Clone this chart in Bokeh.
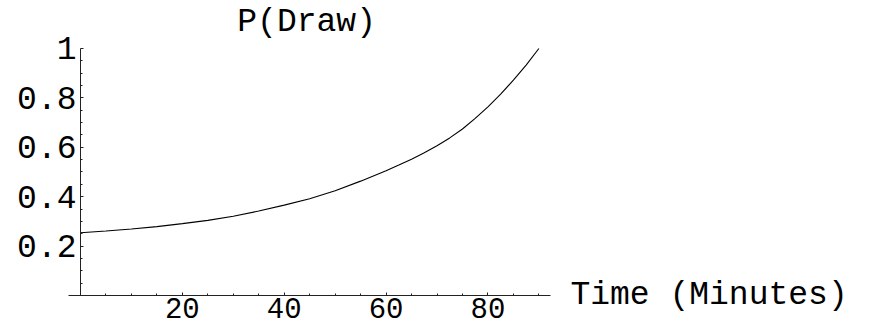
from bokeh.plotting import figure
from bokeh.models import FixedTicker, Label, Range1d
from bokeh.embed import file_html
from bokeh.resources import INLINE

# ---- data ----
minutes = [0, 5, 10, 15, 20, 25, 30, 35, 40, 45, 50, 55, 60, 62.5, 65, 67.5, 70,
           72.5, 75, 77.5, 80, 82.5, 85, 87.5, 90]
p_draw = [0.254, 0.261, 0.269, 0.279, 0.291, 0.304, 0.321, 0.342, 0.366, 0.392,
          0.424, 0.463, 0.505, 0.528, 0.552, 0.578, 0.606, 0.638, 0.674, 0.717,
          0.764, 0.815, 0.872, 0.933, 1.0]

x_major = [20, 40, 60, 80]
x_labels = ["20", "40", "60", "80"]
x_minor = [5, 10, 15, 25, 30, 35, 45, 50, 55, 65, 70, 75, 85, 90]
y_major = [0.2, 0.4, 0.6, 0.8, 1.0]
y_labels = ["0.2", "0.4", "0.6", "0.8", "1"]
y_minor = [0.05, 0.1, 0.15, 0.25, 0.3, 0.35, 0.45, 0.5, 0.55, 0.65, 0.7, 0.75,
           0.85, 0.9, 0.95]
title_text = "P(Draw)"
x_title = "Time (Minutes)"

FONT = "Liberation Mono"
FS = "33px"
FS_X = "29px"

p = figure(width=880, height=328, output_backend="svg", toolbar_location=None,
           x_range=Range1d(-15.708, 157.08), y_range=Range1d(-0.1336, 1.1943),
           min_border=0, min_border_left=0, min_border_right=0,
           min_border_top=0, min_border_bottom=0)
p.outline_line_color = None
p.xgrid.visible = False
p.ygrid.visible = False
p.background_fill_color = "white"
p.border_fill_color = "white"

for ax in (p.xaxis[0], p.yaxis[0]):
    ax.axis_line_color = "#222222"
    ax.axis_line_width = 1
    ax.major_tick_line_color = "#222222"
    ax.minor_tick_line_color = "#222222"
    ax.major_tick_out = 0
    ax.major_tick_in = 3
    ax.minor_tick_out = 0
    ax.minor_tick_in = 2
    ax.major_label_text_font = FONT
    ax.major_label_text_font_size = FS
    ax.major_label_text_color = "black"

xa = p.xaxis[0]
xa.fixed_location = 0
xa.bounds = (-2.36, 92.28)
xa.ticker = FixedTicker(ticks=x_major, minor_ticks=x_minor)
xa.major_label_overrides = {v: s for v, s in zip(x_major, x_labels)}
xa.major_label_text_font_size = FS_X
xa.major_label_standoff = 3

ya = p.yaxis[0]
ya.fixed_location = 0
ya.bounds = (0, 1)
ya.ticker = FixedTicker(ticks=y_major, minor_ticks=y_minor)
ya.major_label_overrides = {v: s for v, s in zip(y_major, y_labels)}
ya.major_label_standoff = 4

p.line(x=minutes, y=p_draw, line_color="black", line_width=1.1)

p.add_layout(Label(x=44.4, y=1.1065, text=title_text, text_font=FONT,
                   text_font_size=FS, text_align="center",
                   text_baseline="middle", text_color="black"))
p.add_layout(Label(x=96.2, y=0, text=x_title, text_font=FONT,
                   text_font_size=FS, text_align="left",
                   text_baseline="middle", text_color="black"))

open("out.html", "w").write(file_html(p, INLINE))
